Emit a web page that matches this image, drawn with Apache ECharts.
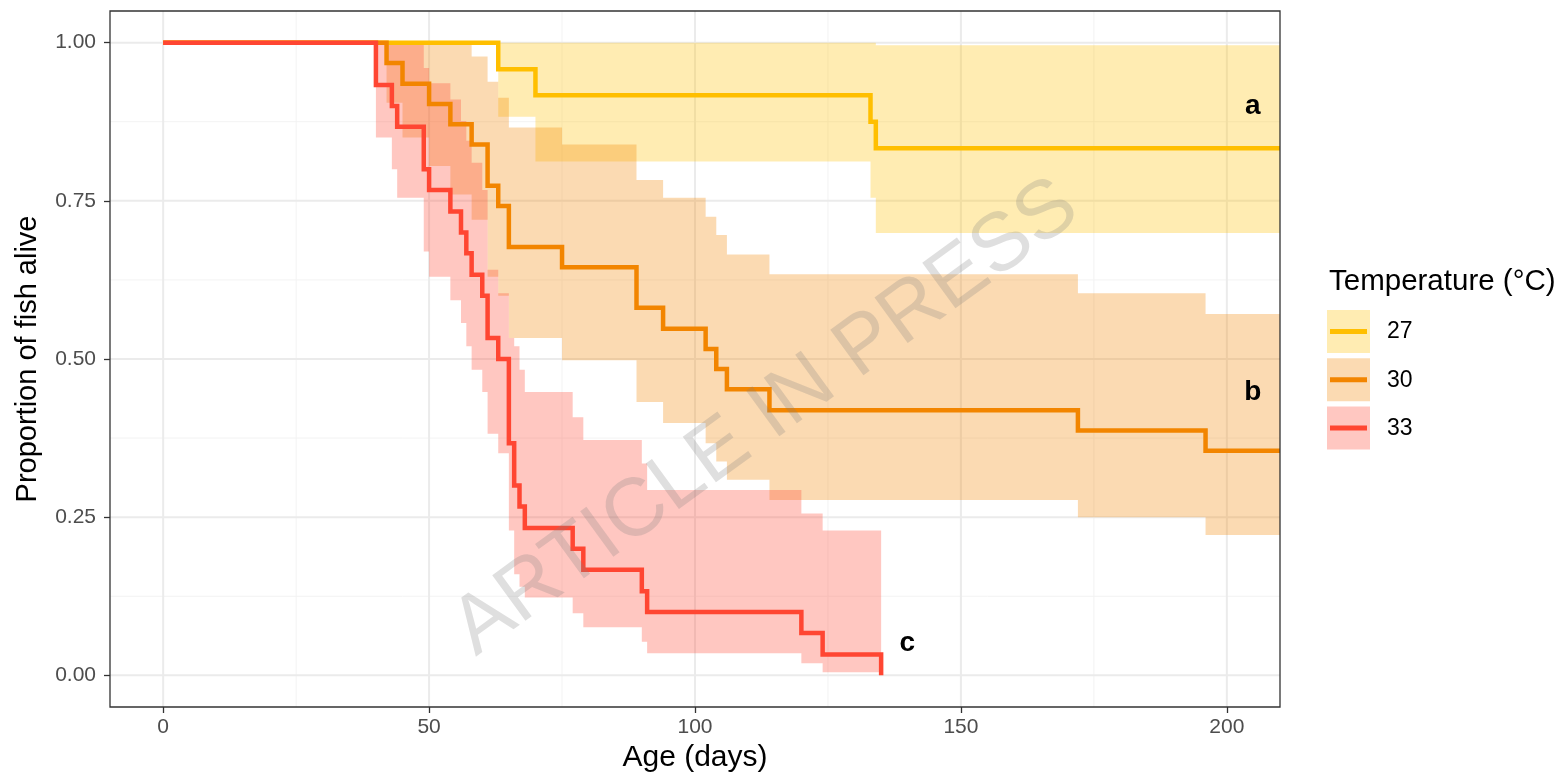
<!DOCTYPE html>
<html>
<head>
<meta charset="utf-8">
<script src="https://cdn.jsdelivr.net/npm/echarts@6/dist/echarts.min.js"></script>
<style>
  html, body { margin: 0; padding: 0; background: #fff; }
  #chart { width: 1568px; height: 783px; }
</style>
</head>
<body>
<div id="chart"></div>
<script>
// Kaplan-Meier estimates (value after each step) with confidence limits
const days27 = [0, 63, 70, 133, 134, 210];
const surv27 = [1, 0.958, 0.917, 0.875, 0.833, 0.833];
const lower27 = [1, 0.883, 0.812, 0.755, 0.699, 0.699];
const upper27 = [1, 1, 1, 1, 0.996, 0.996];

const days30 = [0, 42, 45, 50, 54, 58, 61, 63, 65, 75, 89, 94, 102, 104, 106, 114, 172, 196, 210];
const surv30 = [1, 0.968, 0.935, 0.903, 0.871, 0.839, 0.774, 0.742, 0.677, 0.645, 0.581, 0.548, 0.516, 0.484, 0.452, 0.419, 0.387, 0.355, 0.355];
const lower30 = [1, 0.905, 0.85, 0.805, 0.76, 0.72, 0.63, 0.6, 0.533, 0.498, 0.432, 0.399, 0.367, 0.338, 0.309, 0.277, 0.25, 0.222, 0.222];
const upper30 = [1, 1, 1, 1, 1, 0.978, 0.938, 0.913, 0.866, 0.839, 0.783, 0.755, 0.725, 0.696, 0.665, 0.634, 0.604, 0.571, 0.571];

const days33 = [0, 40, 43, 44, 49, 50, 54, 56, 57, 58, 60, 61, 63, 65, 66, 67, 68, 77, 79, 90, 91, 120, 124, 135];
const surv33 = [1, 0.933, 0.9, 0.867, 0.8, 0.767, 0.733, 0.7, 0.667, 0.633, 0.6, 0.533, 0.5, 0.367, 0.3, 0.267, 0.233, 0.2, 0.167, 0.133, 0.1, 0.067, 0.033, 0];
const lower33 = [1, 0.85, 0.8, 0.755, 0.67, 0.63, 0.593, 0.557, 0.52, 0.483, 0.448, 0.382, 0.351, 0.229, 0.16, 0.14, 0.123, 0.098, 0.076, 0.053, 0.035, 0.019, 0.005, 0.005];
const upper33 = [1, 1, 1, 1, 0.96, 0.936, 0.91, 0.876, 0.845, 0.81, 0.767, 0.641, 0.604, 0.533, 0.52, 0.483, 0.448, 0.408, 0.372, 0.335, 0.293, 0.256, 0.229, 0.005];

const groups = ['27', '30', '33'];
const xTicks = [0, 50, 100, 150, 200];
const xMinor = [25, 75, 125, 175];
const yTicks = [0, 0.25, 0.5, 0.75, 1];
const yMinor = [0.125, 0.375, 0.625, 0.875];

// group letters (a, b, c) placed at data coordinates
const letters = ['a', 'b', 'c'];
const letterX = [204.9, 204.9, 139.9];
const letterY = [0.9, 0.448, 0.051];

const X_MIN = -10, X_MAX = 210, Y_MIN = -0.05, Y_MAX = 1.05;
const FONT = '"Liberation Sans", Arial, sans-serif';
const lineColor = { '27': '#FFBF00', '30': '#F28500', '33': '#FF4632' };
const bandColor = { '27': 'rgba(255,191,0,0.3)', '30': 'rgba(242,133,0,0.3)', '33': 'rgba(255,70,50,0.3)' };

const curves = {
  '27': { days: days27, surv: surv27, lo: lower27, hi: upper27 },
  '30': { days: days30, surv: surv30, lo: lower30, hi: upper30 },
  '33': { days: days33, surv: surv33, lo: lower33, hi: upper33 }
};

const pairs = (xs, ys) => xs.map((x, i) => [x, ys[i]]);

function bandRenderer(c, fill) {
  return function (params, api) {
    if (params.dataIndex !== 0) return null;
    const top = [], bottom = [];
    for (let i = 0; i < c.days.length - 1; i++) {
      top.push(api.coord([c.days[i], c.hi[i]]), api.coord([c.days[i + 1], c.hi[i]]));
      bottom.push(api.coord([c.days[i], c.lo[i]]), api.coord([c.days[i + 1], c.lo[i]]));
    }
    return { type: 'polygon', shape: { points: top.concat(bottom.reverse()) }, style: { fill: fill } };
  };
}

function gridRenderer(params, api) {
  const els = [];
  const vline = (v, w, col) => {
    const a = api.coord([v, Y_MIN]), b = api.coord([v, Y_MAX]);
    els.push({ type: 'line', shape: { x1: a[0], y1: a[1], x2: b[0], y2: b[1] }, style: { stroke: col, lineWidth: w } });
  };
  const hline = (v, w, col) => {
    const a = api.coord([X_MIN, v]), b = api.coord([X_MAX, v]);
    els.push({ type: 'line', shape: { x1: a[0], y1: a[1], x2: b[0], y2: b[1] }, style: { stroke: col, lineWidth: w } });
  };
  xMinor.forEach(v => vline(v, 1, '#f3f3f3'));
  yMinor.forEach(v => hline(v, 1, '#f3f3f3'));
  xTicks.forEach(v => vline(v, 2, '#ebebeb'));
  yTicks.forEach(v => hline(v, 2, '#ebebeb'));
  return { type: 'group', children: els };
}

const series = [{
  type: 'custom', name: 'grid', data: [[0, 0]], renderItem: gridRenderer, silent: true, z: 1
}];
groups.forEach(g => {
  const c = curves[g];
  series.push({
    type: 'custom', name: 'band' + g, data: pairs(c.days, c.surv),
    renderItem: bandRenderer(c, bandColor[g]), silent: true, z: 2
  });
});
groups.forEach(g => {
  const c = curves[g];
  series.push({
    type: 'line', name: g, data: pairs(c.days, c.surv), step: 'end',
    symbol: 'none', silent: true, z: 3,
    lineStyle: { color: lineColor[g], width: 4.5, cap: 'butt', join: 'miter' }
  });
});
series.push({
  type: 'custom', name: 'letters', data: letterX.map((x, i) => [x, letterY[i]]), silent: true, z: 4,
  renderItem: function (params, api) {
    const p = api.coord([api.value(0), api.value(1)]);
    return {
      type: 'text', x: p[0], y: p[1],
      style: { text: letters[params.dataIndex], font: 'bold 28px ' + FONT, fill: '#000', align: 'center', verticalAlign: 'middle' }
    };
  }
});

// legend drawn as ggplot-style keys
const legendEls = [{
  type: 'text', left: 1329, top: 267, z: 10,
  style: { text: 'Temperature (°C)', font: '29.5px ' + FONT, fill: '#000' }
}];
groups.forEach((g, i) => {
  const y = 310 + i * 48.3;
  legendEls.push({ type: 'rect', shape: { x: 1327, y: y, width: 43, height: 43 }, style: { fill: bandColor[g] }, z: 10 });
  legendEls.push({ type: 'line', shape: { x1: 1330, y1: y + 21.5, x2: 1367, y2: y + 21.5 }, style: { stroke: lineColor[g], lineWidth: 5 }, z: 11 });
  legendEls.push({
    type: 'text', x: 1387, y: y + 22, z: 10,
    style: { text: g, font: '23px ' + FONT, fill: '#000', verticalAlign: 'middle' }
  });
});
legendEls.push({
  type: 'text', x: 766, y: 418, rotation: 36 * Math.PI / 180, z: 20,
  style: { text: 'ARTICLE IN PRESS', font: '82px ' + FONT, fill: 'rgba(128,128,128,0.25)', align: 'center', verticalAlign: 'middle' }
});

const chart = echarts.init(document.getElementById('chart'), null, { renderer: 'canvas' });
chart.setOption({
  animation: false,
  backgroundColor: '#fff',
  grid: { left: 110, right: 288, top: 11, bottom: 76, show: true, borderColor: '#333', borderWidth: 1.3, backgroundColor: 'transparent', z: 5 },
  xAxis: {
    type: 'value', min: X_MIN, max: X_MAX,
    name: 'Age (days)', nameLocation: 'middle', nameGap: 33,
    nameTextStyle: { fontFamily: FONT, fontSize: 30, color: '#000', verticalAlign: 'top' },
    axisLine: { show: false, onZero: false },
    axisTick: { show: true, customValues: xTicks, length: 6, lineStyle: { color: '#333', width: 1.3 } },
    axisLabel: { customValues: xTicks, margin: 10, fontFamily: FONT, fontSize: 21, color: '#4d4d4d' },
    splitLine: { show: false }
  },
  yAxis: {
    type: 'value', min: Y_MIN, max: Y_MAX,
    name: 'Proportion of fish alive', nameLocation: 'middle', nameGap: 68,
    nameTextStyle: { fontFamily: FONT, fontSize: 29, color: '#000' },
    axisLine: { show: false, onZero: false },
    axisTick: { show: true, customValues: yTicks, length: 6, lineStyle: { color: '#333', width: 1.3 } },
    axisLabel: { customValues: yTicks, margin: 14, fontFamily: FONT, fontSize: 21, color: '#4d4d4d', formatter: v => v.toFixed(2) },
    splitLine: { show: false }
  },
  graphic: legendEls,
  series: series
});
</script>
</body>
</html>
